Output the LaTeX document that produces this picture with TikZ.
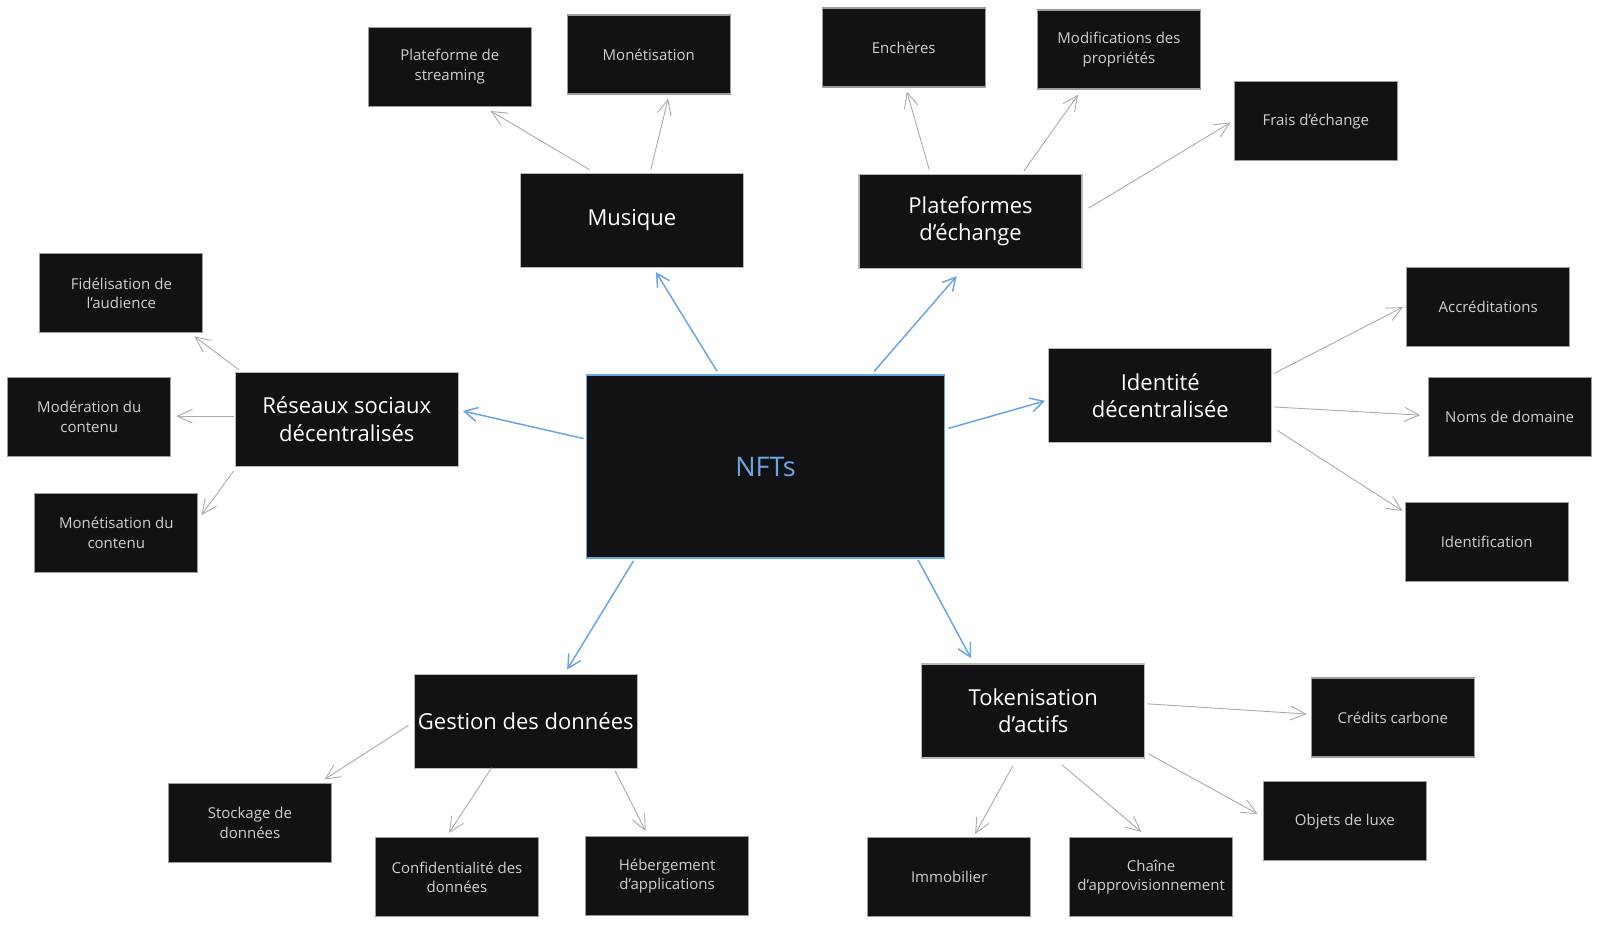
\documentclass[tikz,border=0pt]{standalone}
\usepackage{fontspec}
\setmainfont{Open Sans}
\usetikzlibrary{arrows.meta}

\definecolor{boxfill}{HTML}{121214}
\definecolor{hubblue}{HTML}{6AA6E6}
\definecolor{topicgray}{HTML}{B8B8B8}
\definecolor{leafgray}{HTML}{9C9C9C}
\definecolor{leaftext}{HTML}{CFCFCF}
\definecolor{linkgray}{HTML}{ABABAB}

\begin{document}
\begin{tikzpicture}[x=1.02pt, y=-1.02pt,
	hub/.style={fill=boxfill, draw=hubblue, line width=1.5pt, minimum width=358pt, minimum height=183pt, text=hubblue, font=\fontsize{27}{30}\selectfont},
	topic/.style={fill=boxfill, draw=topicgray, line width=1.2pt, minimum width=223pt, minimum height=94pt, inner sep=0pt, align=center, text=white, font=\fontsize{22}{27.5}\selectfont},
	leaf/.style={fill=boxfill, draw=leafgray, line width=1.2pt, minimum width=163pt, minimum height=79pt, inner sep=0pt, align=center, text=leaftext, font=\fontsize{15}{19.5}\selectfont},
	link/.style={draw=hubblue, line width=1.5pt, -{Straight Barb[length=13pt, width=14pt]}},
	sublink/.style={draw=linkgray, line width=0.9pt, -{Straight Barb[length=15pt, width=14pt]}}]
	\useasboundingbox (0,0) rectangle (1568.6,905.9);

	\node [hub] (nft) at (750.5, 457.5) {NFTs};

	\node [topic] (mus) at (619.5, 216) {Musique};
	\node [topic] (plt) at (951.5, 217) {Plateformes\\d'échange};
	\node [topic] (res) at (340, 411) {Réseaux sociaux\\décentralisés};
	\node [topic] (idn) at (1137.5, 388) {Identité\\décentralisée};
	\node [topic] (ges) at (515.5, 707) {Gestion des données};
	\node [topic] (tok) at (1013, 697) {Tokenisation\\d'actifs};

	\node [leaf] (str) at (441, 65.5) {Plateforme de\\streaming};
	\node [leaf] (mon) at (636, 53.5) {Monétisation};
	\node [leaf] (enc) at (886, 46.5) {Enchères};
	\node [leaf] (mod) at (1097, 48.5) {Modifications des\\propriétés};
	\node [leaf] (fra) at (1290, 119) {Frais d'échange};

	\node [leaf] (fid) at (119, 287.5) {Fidélisation de\\l'audience};
	\node [leaf] (mdr) at (87.5, 408.5) {Modération du\\contenu};
	\node [leaf] (mct) at (114, 522.5) {Monétisation du\\contenu};

	\node [leaf] (acc) at (1459, 301) {Accréditations};
	\node [leaf] (nom) at (1480, 409) {Noms de domaine};
	\node [leaf] (ide) at (1457.5, 531.5) {Identification};

	\node [leaf] (sto) at (245, 806.5) {Stockage de\\données};
	\node [leaf] (con) at (448, 860) {Confidentialité des\\données};
	\node [leaf] (heb) at (654, 859) {Hébergement\\d'applications};

	\node [leaf] (imm) at (930.5, 860) {Immobilier};
	\node [leaf] (cha) at (1128.5, 860) {Chaîne\\d'approvisionnement};
	\node [leaf] (obj) at (1318.5, 805) {Objets de luxe};
	\node [leaf] (cre) at (1365.5, 703.5) {Crédits carbone};

	\draw [link] ([shift={(-47.5,-3)}]nft.north) to ([shift={(23.5,4)}]mus.south);
	\draw [link] ([shift={(106.5,-3)}]nft.north) to ([shift={(-13.5,7)}]plt.south);
	\draw [link] ([shift={(-2,-27.5)}]nft.west) to ([shift={(4,-8)}]res.east);
	\draw [link] ([shift={(3,-37.5)}]nft.east) to ([shift={(-3,5)}]idn.west);
	\draw [link] ([shift={(-129.5,2)}]nft.south) to ([shift={(40.5,-4)}]ges.north);
	\draw [link] ([shift={(149.5,1)}]nft.south) to ([shift={(-61,-5)}]tok.north);

	\draw [sublink] ([shift={(-41.5,-3)}]mus.north) to ([shift={(40,4)}]str.south);
	\draw [sublink] ([shift={(18.5,-3)}]mus.north) to ([shift={(19,4)}]mon.south);

	\draw [sublink] ([shift={(-40.5,-4)}]plt.north) to ([shift={(3,4)}]enc.south);
	\draw [sublink] ([shift={(52.5,-3)}]plt.north) to ([shift={(-40,5)}]mod.south);
	\draw [sublink] ([shift={(6,-13)}]plt.east) to ([shift={(-3,1)}]fra.west);

	\draw [sublink] ([shift={(4,-2)}]res.north west) to ([shift={(-9,3)}]fid.south east);
	\draw [sublink] ([shift={(-1,-3)}]res.west) to ([shift={(5,-0.5)}]mdr.east);
	\draw [sublink] ([shift={(-1,4)}]res.south west) to ([shift={(3,-17.5)}]mct.east);

	\draw [sublink] ([shift={(2,-22)}]idn.east) to ([shift={(-3,0)}]acc.west);
	\draw [sublink] ([shift={(2,11)}]idn.east) to ([shift={(-7,-2)}]nom.west);
	\draw [sublink] ([shift={(5,34)}]idn.east) to ([shift={(-2,-30.5)}]ide.west);

	\draw [sublink] ([shift={(-5,4)}]ges.west) to ([shift={(73,-3)}]sto.north);
	\draw [sublink] ([shift={(-33.5,-1)}]ges.south) to ([shift={(-8,-4)}]con.north);
	\draw [sublink] ([shift={(87.5,2)}]ges.south) to ([shift={(-21,-5)}]heb.north);

	\draw [sublink] ([shift={(-20,7)}]tok.south) to ([shift={(25.5,-3)}]imm.north);
	\draw [sublink] ([shift={(28,6)}]tok.south) to ([shift={(-9.5,-5)}]cha.north);
	\draw [sublink] ([shift={(3,42)}]tok.east) to ([shift={(-5,-7)}]obj.west);
	\draw [sublink] ([shift={(2,-7)}]tok.east) to ([shift={(-4,-3.5)}]cre.west);
\end{tikzpicture}
\end{document}
